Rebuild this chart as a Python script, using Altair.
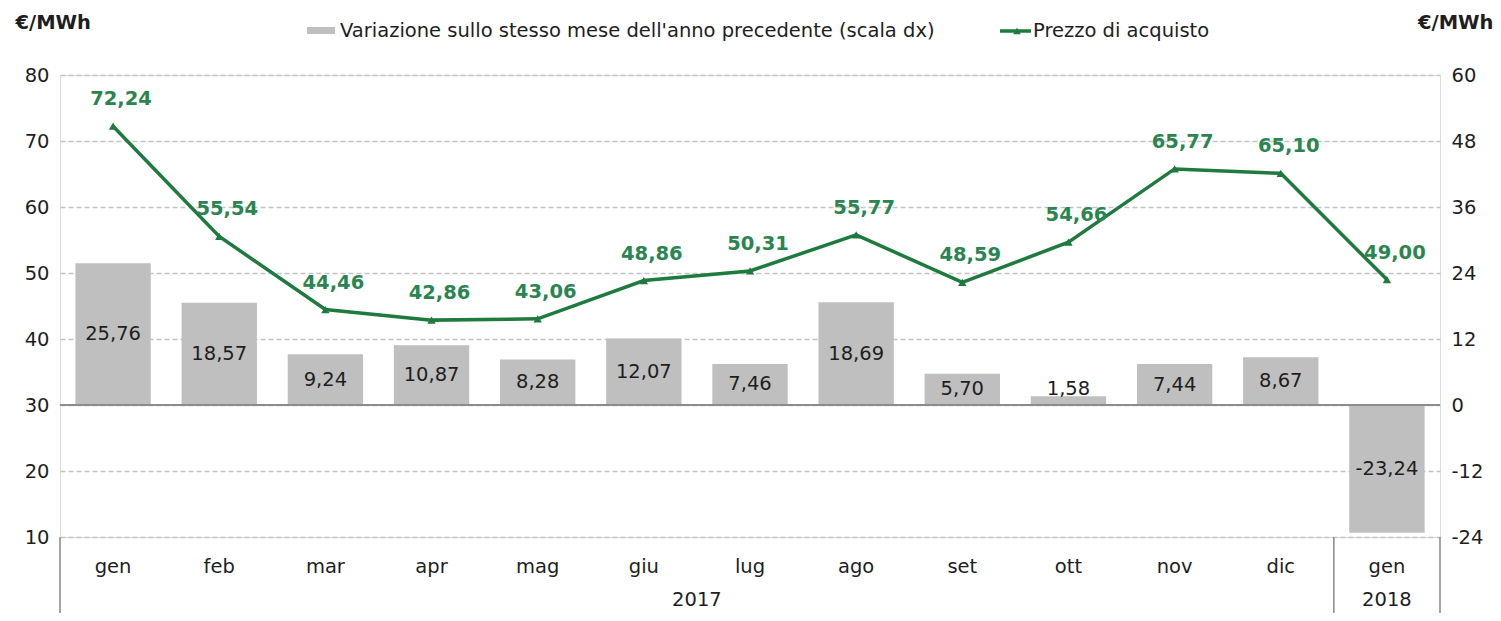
import altair as alt
import pandas as pd

months = ["gen", "feb", "mar", "apr", "mag", "giu", "lug", "ago", "set", "ott", "nov", "dic", "gen"]
years = ["2017"] * 12 + ["2018"]
prezzo = [72.24, 55.54, 44.46, 42.86, 43.06, 48.86, 50.31, 55.77, 48.59, 54.66, 65.77, 65.10, 49.00]
variazione = [25.76, 18.57, 9.24, 10.87, 8.28, 12.07, 7.46, 18.69, 5.70, 1.58, 7.44, 8.67, -23.24]
left_ticks = [10, 20, 30, 40, 50, 60, 70, 80]
right_ticks = [-24, -12, 0, 12, 24, 36, 48, 60]

keys = [f"{m} {y}" for m, y in zip(months, years)]


def it(v):
    return f"{v:.2f}".replace(".", ",")


df = pd.DataFrame({
    "key": keys,
    "prezzo": prezzo,
    "var": variazione,
    "prezzo_lbl": [it(v) for v in prezzo],
    "var_lbl": [it(v) for v in variazione],
})

FONT = "DejaVu Sans"
FS = 19.5
GREEN_LINE = "#1f7a3f"
GREEN_TXT = "#2a8550"
GRAY_BAR = "#bfbfbf"
TXT = "#1e1e1e"
W, H = 1380, 462

xenc = alt.X("key:N", sort=keys, title=None,
             scale=alt.Scale(paddingInner=0, paddingOuter=0),
             axis=alt.Axis(labelExpr="split(datum.label, ' ')[0]", labelAngle=0,
                           labelFontSize=FS, labelColor=TXT, labelFont=FONT,
                           domain=False, ticks=False, grid=False, labelPadding=20))

left_axis = alt.Axis(values=left_ticks, grid=True, gridDash=[5, 3], gridColor="#c4c4c4",
                     gridWidth=1.5, domain=False, ticks=False, labelFontSize=FS,
                     labelColor=TXT, labelFont=FONT, labelPadding=11,
                     labelExpr="toString(datum.value)",
                     title="€/MWh", titleAngle=0, titleAlign="left", titleBaseline="middle",
                     titleX=-45, titleY=-53, titleFontSize=FS, titleFont=FONT,
                     titleFontWeight="bold", titleColor=TXT)
right_axis = alt.Axis(values=right_ticks, orient="right", grid=False, domain=False,
                      ticks=False, labelFontSize=FS, labelColor=TXT, labelFont=FONT,
                      labelPadding=11, labelExpr="toString(datum.value)",
                      title="€/MWh", titleAngle=0, titleAlign="right", titleBaseline="middle",
                      titleX=53, titleY=-53, titleFontSize=FS, titleFont=FONT,
                      titleFontWeight="bold", titleColor=TXT)
lscale = alt.Scale(domain=[10, 80], nice=False, zero=False)
rscale = alt.Scale(domain=[-24, 60], nice=False, zero=False)

base = alt.Chart(df).encode(x=xenc)

bars = base.mark_bar(color=GRAY_BAR, width=alt.RelativeBandSize(0.71)).encode(
    y=alt.Y("var:Q", scale=rscale, axis=right_axis), y2=alt.datum(0))
zero = base.mark_rule(color="#8c8c8c", strokeWidth=1.5).encode(
    y=alt.Y("zero:Q", scale=rscale, axis=right_axis),
    x=alt.value(0), x2=alt.value(W)).transform_calculate(zero="0")
bar_lbl = base.mark_text(fontSize=FS, font=FONT, color=TXT, baseline="middle").encode(
    y=alt.Y("mid:Q", scale=rscale, axis=right_axis), text="var_lbl:N"
).transform_calculate(mid="datum.var > 0 ? max(datum.var / 2, 3) : datum.var / 2")
right_layer = alt.layer(bars, zero, bar_lbl)

line = base.mark_line(color=GREEN_LINE, strokeWidth=3.5).encode(
    y=alt.Y("prezzo:Q", scale=lscale, axis=left_axis))
pts = base.mark_point(shape="triangle-up", filled=True, color=GREEN_LINE, size=70, opacity=1).encode(
    y=alt.Y("prezzo:Q", scale=lscale, axis=left_axis))
line_lbl = base.mark_text(fontSize=FS, font=FONT, fontWeight="bold", color=GREEN_TXT,
                          dy=-27, dx=8, baseline="middle").encode(
    y=alt.Y("prezzo:Q", scale=lscale, axis=left_axis), text="prezzo_lbl:N")
left_layer = alt.layer(line, pts, line_lbl)

# separators and year labels below axis
sep0 = alt.Chart(pd.DataFrame({"key": [keys[0], keys[12]]})).mark_rule(
    color="#888", strokeWidth=1.5).encode(
    x=alt.X("key:N", sort=keys, bandPosition=0), y=alt.value(H), y2=alt.value(H + 84))
sep1 = alt.Chart(pd.DataFrame({"key": [keys[12]]})).mark_rule(
    color="#888", strokeWidth=1.5).encode(
    x=alt.X("key:N", sort=keys, bandPosition=1), y=alt.value(H), y2=alt.value(H + 84))
yr17 = alt.Chart(pd.DataFrame({"key": [keys[5]], "yr": ["2017"]})).mark_text(
    fontSize=FS, font=FONT, color=TXT, baseline="middle").encode(
    x=alt.X("key:N", sort=keys, bandPosition=1), y=alt.value(H + 63), text="yr:N")
yr18 = alt.Chart(pd.DataFrame({"key": [keys[12]], "yr": ["2018"]})).mark_text(
    fontSize=FS, font=FONT, color=TXT, baseline="middle").encode(
    x=alt.X("key:N", sort=keys, bandPosition=0.5), y=alt.value(H + 63), text="yr:N")

# legend
leg_df = pd.DataFrame({"a": [0]})
leg_rect = alt.Chart(leg_df).mark_rect(color=GRAY_BAR).encode(
    x=alt.value(247), x2=alt.value(275), y=alt.value(-48), y2=alt.value(-41))
leg_t1 = alt.Chart(leg_df).mark_text(align="left", baseline="middle", fontSize=FS, font=FONT,
                                     color=TXT).encode(
    x=alt.value(280), y=alt.value(-44),
    text=alt.value("Variazione sullo stesso mese dell'anno precedente (scala dx)"))
leg_line = alt.Chart(leg_df).mark_rule(color=GREEN_LINE, strokeWidth=3.5).encode(
    x=alt.value(940), x2=alt.value(971), y=alt.value(-44))
leg_pt = alt.Chart(leg_df).mark_point(shape="triangle-up", filled=True, color=GREEN_LINE,
                                      size=60, opacity=1).encode(
    x=alt.value(957), y=alt.value(-44))
leg_t2 = alt.Chart(leg_df).mark_text(align="left", baseline="middle", fontSize=FS, font=FONT,
                                     color=TXT).encode(
    x=alt.value(973), y=alt.value(-44), text=alt.value("Prezzo di acquisto"))

chart = alt.layer(
    right_layer, left_layer, sep0, sep1, yr17, yr18,
    leg_rect, leg_t1, leg_line, leg_pt, leg_t2
).resolve_scale(y="independent").properties(
    width=W, height=H,
    autosize=alt.AutoSizeParams(type="none"),
    padding={"left": 52, "top": 67, "right": 53, "bottom": 76},
).configure_view(stroke=None).configure(font=FONT)

chart.save("out.html", embed_options={"renderer": "svg", "actions": False})
